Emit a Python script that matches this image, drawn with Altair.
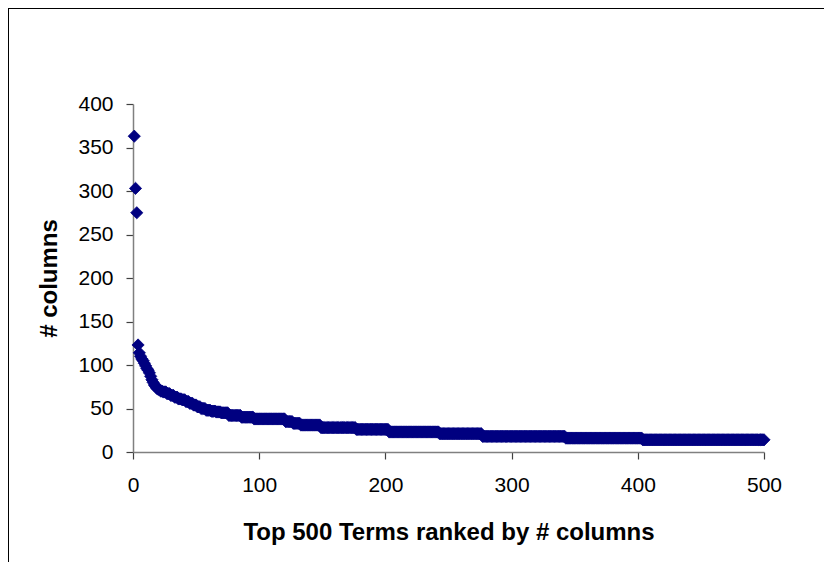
import altair as alt
import pandas as pd

# Ranked term counts (value, number of terms at that value)
level_values = [363, 303, 275, 123, 114, 110, 107, 105, 102, 99, 96, 94, 91,
                87, 83, 80, 77, 75, 73,
                72, 70, 69, 67, 65, 63, 61, 60, 58, 56, 54, 52,
                50, 48, 47, 46, 45, 42, 40, 38, 35, 33, 31, 28, 26, 23, 21, 18, 16, 14]
level_counts = [1, 1, 1, 1, 1, 1, 1, 1, 1, 1, 1, 1, 1,
                1, 1, 1, 1, 1, 1,
                2, 2, 3, 3, 3, 3, 3, 3, 3, 3, 3, 3,
                4, 4, 4, 4, 6, 10, 10, 25, 6, 6, 16, 28, 26, 40, 34, 66, 61, 97]

x_ticks = [0, 100, 200, 300, 400, 500]
y_ticks = [0, 50, 100, 150, 200, 250, 300, 350, 400]

columns = []
for v, c in zip(level_values, level_counts):
    columns.extend([v] * c)
df = pd.DataFrame({"rank": list(range(1, len(columns) + 1)), "columns": columns})

W, H = 631, 348
PL, PT, PR, PB = 125, 96, 60, 110

points = alt.Chart(df).mark_point(
    shape="diamond", filled=True, size=150, color="#000080", opacity=1,
    stroke="#000080", strokeWidth=0.8
).encode(
    x=alt.X("rank:Q",
            scale=alt.Scale(domain=[0, 500], nice=False, zero=False),
            axis=alt.Axis(values=x_ticks, title="Top 500 Terms ranked by # columns",
                          grid=False, labelPadding=15, titlePadding=25)),
    y=alt.Y("columns:Q",
            scale=alt.Scale(domain=[0, 400], nice=False),
            axis=alt.Axis(values=y_ticks, title="# columns", grid=False,
                          labelPadding=13, titlePadding=16)),
)

frame_df = pd.DataFrame({"k": [0]})
left_border = alt.Chart(frame_df).mark_rule(color="black", strokeWidth=1).encode(
    x=alt.value(-PL + 0.5), y=alt.value(-PT), y2=alt.value(H + PB)
)
top_border = alt.Chart(frame_df).mark_rule(color="black", strokeWidth=1).encode(
    x=alt.value(-PL), x2=alt.value(W + PR), y=alt.value(-PT + 0.5)
)

chart = alt.layer(points, left_border, top_border).properties(
    width=W, height=H,
    autosize=alt.AutoSizeParams(type="none"),
    padding={"left": PL, "top": PT, "right": PR, "bottom": PB},
    background="white",
).configure_view(
    strokeWidth=0
).configure_axis(
    labelFont="Liberation Sans", labelFontSize=21, labelColor="black",
    titleFont="Liberation Sans", titleFontSize=24, titleFontWeight="bold", titleColor="black",
    domainColor="#808080", domainWidth=1.5, tickColor="#404040", tickSize=7, tickWidth=1.2,
    labelFlush=False, labelOverlap=False,
)

chart.save("out.html", embed_options={"renderer": "svg", "actions": False})
